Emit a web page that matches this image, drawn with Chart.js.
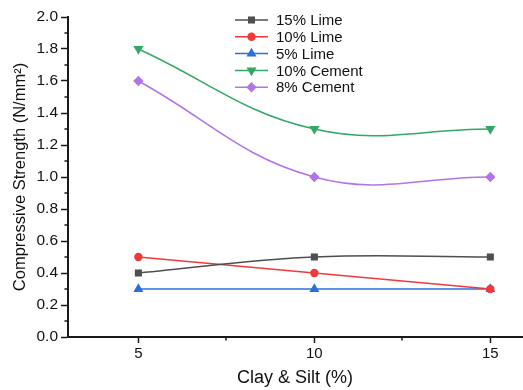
<!DOCTYPE html>
<html>
<head>
<meta charset="utf-8">
<script src="https://cdn.jsdelivr.net/npm/chart.js@4.4.0/dist/chart.umd.min.js"></script>
<style>
html, body { margin: 0; padding: 0; background: #fff; overflow: hidden; }
#wrap { width: 523px; height: 390px; }
</style>
</head>
<body>
<div id="wrap"><canvas id="chart"></canvas></div>
<script>
'use strict';

// Data.
const clayContent = [5, 10, 15];
const lime15 = [0.4, 0.5, 0.5];
const lime10 = [0.5, 0.4, 0.3];
const lime5 = [0.3, 0.3, 0.3];
const cement10 = [1.8, 1.3, 1.3];
const cement8 = [1.6, 1.0, 1.0];
const seriesNames = ['15% Lime', '10% Lime', '5% Lime', '10% Cement', '8% Cement'];

// Axis ticks.
const xTicks = [5, 10, 15];
const xMinorTicks = [7.5, 12.5];
const yTicks = [0, 0.2, 0.4, 0.6, 0.8, 1.0, 1.2, 1.4, 1.6, 1.8, 2.0];
const yMinorTicks = [0.1, 0.3, 0.5, 0.7, 0.9, 1.1, 1.3, 1.5, 1.7, 1.9];

const FONT = 'Liberation Sans, Arial, sans-serif';
const AXIS = '#1a1a1a';

const toPoints = (vals) => vals.map((v, i) => ({x: clayContent[i], y: v}));

const makeSet = (label, vals, color, style, radius, rotation) => ({
    label: label,
    data: toPoints(vals),
    borderColor: color,
    backgroundColor: color,
    borderWidth: 1.5,
    pointStyle: style,
    pointRadius: radius,
    pointRotation: rotation || 0,
    pointBorderWidth: 0,
    tension: 0.4,
});

const datasets = [
    makeSet(seriesNames[0], lime15, '#4f4f4f', 'rect', 5),
    makeSet(seriesNames[1], lime10, '#f03a3a', 'circle', 4.2),
    makeSet(seriesNames[2], lime5, '#2a6fe0', 'triangle', 5.8),
    makeSet(seriesNames[3], cement10, '#33a866', 'triangle', 5.8, 180),
    makeSet(seriesNames[4], cement8, '#b274e6', 'rectRot', 5.2),
];

/**
 * Minor tick marks on both axes.
 */
const minorTicks = {
    id: 'minorTicks',
    afterDraw(chart) {
        const ctx = chart.ctx;
        const xs = chart.scales.x;
        const ys = chart.scales.y;
        ctx.save();
        ctx.strokeStyle = AXIS;
        ctx.lineWidth = 1.5;
        ctx.beginPath();
        xMinorTicks.forEach((v) => {
            const px = Math.round(xs.getPixelForValue(v));
            ctx.moveTo(px, xs.top);
            ctx.lineTo(px, xs.top + 3.5);
        });
        yMinorTicks.forEach((v) => {
            const py = Math.round(ys.getPixelForValue(v));
            ctx.moveTo(ys.right, py);
            ctx.lineTo(ys.right - 3.5, py);
        });
        ctx.stroke();
        ctx.restore();
    },
};

/**
 * Legend drawn inside the plot: line, marker, label.
 */
const innerLegend = {
    id: 'innerLegend',
    afterDraw(chart) {
        const ctx = chart.ctx;
        const x0 = 235;
        const x1 = 268;
        const top = 20;
        const step = 16.8;
        ctx.save();
        ctx.font = '15px ' + FONT;
        ctx.textBaseline = 'middle';
        ctx.textAlign = 'left';
        chart.data.datasets.forEach((ds, i) => {
            const y = top + i * step;
            ctx.strokeStyle = ds.borderColor;
            ctx.fillStyle = ds.backgroundColor;
            ctx.lineWidth = 1.5;
            ctx.beginPath();
            ctx.moveTo(x0, y);
            ctx.lineTo(x1, y);
            ctx.stroke();
            Chart.helpers.drawPoint(ctx, {
                pointStyle: ds.pointStyle,
                radius: ds.pointRadius,
                rotation: ds.pointRotation,
                borderWidth: 0,
            }, (x0 + x1) / 2, y);
            ctx.fillStyle = '#111';
            ctx.fillText(ds.label, 276, y + 1);
        });
        ctx.restore();
    },
};

const renderChart = (canvasId) => {
    const config = {
        type: 'line',
        data: {datasets: datasets},
        options: {
            responsive: true,
            maintainAspectRatio: false,
            animation: false,
            events: [],
            layout: {autoPadding: false, padding: {top: 17, left: 10, right: 1, bottom: 0}},
            plugins: {
                legend: {display: false},
                tooltip: {enabled: false},
            },
            scales: {
                x: {
                    type: 'linear',
                    min: 3,
                    max: 15.9,
                    afterBuildTicks: (scale) => {
                        scale.ticks = xTicks.map((v) => ({value: v}));
                    },
                    afterFit: (scale) => {
                        scale.height = 53;
                        scale.paddingLeft = 0;
                        scale.paddingRight = 0;
                    },
                    border: {display: true, color: AXIS, width: 2},
                    grid: {
                        drawOnChartArea: false,
                        drawTicks: true,
                        tickLength: 6,
                        tickWidth: 1.5,
                        tickColor: AXIS,
                    },
                    ticks: {
                        color: '#111',
                        font: {family: FONT, size: 15},
                        padding: 2,
                        maxRotation: 0,
                        callback: (v) => String(v),
                    },
                    title: {
                        display: true,
                        text: 'Clay & Silt (%)',
                        color: '#111',
                        font: {family: FONT, size: 18},
                        padding: {top: 0, bottom: 1},
                    },
                },
                y: {
                    min: 0,
                    max: 2,
                    afterBuildTicks: (scale) => {
                        scale.ticks = yTicks.map((v) => ({value: v}));
                    },
                    afterFit: (scale) => {
                        scale.width = 58;
                    },
                    border: {display: true, color: AXIS, width: 2},
                    grid: {
                        drawOnChartArea: false,
                        drawTicks: true,
                        tickLength: 7,
                        tickWidth: 1.5,
                        tickColor: AXIS,
                    },
                    ticks: {
                        color: '#111',
                        font: {family: FONT, size: 15.5},
                        padding: 3,
                        callback: (v) => Number(v).toFixed(1),
                    },
                    title: {
                        display: true,
                        text: 'Compressive Strength (N/mm²)',
                        color: '#111',
                        font: {family: FONT, size: 16.5},
                        padding: {top: 1, bottom: 0},
                    },
                },
            },
        },
        plugins: [minorTicks, innerLegend],
    };
    return new Chart(document.getElementById(canvasId), config);
};

renderChart('chart');
</script>
</body>
</html>
